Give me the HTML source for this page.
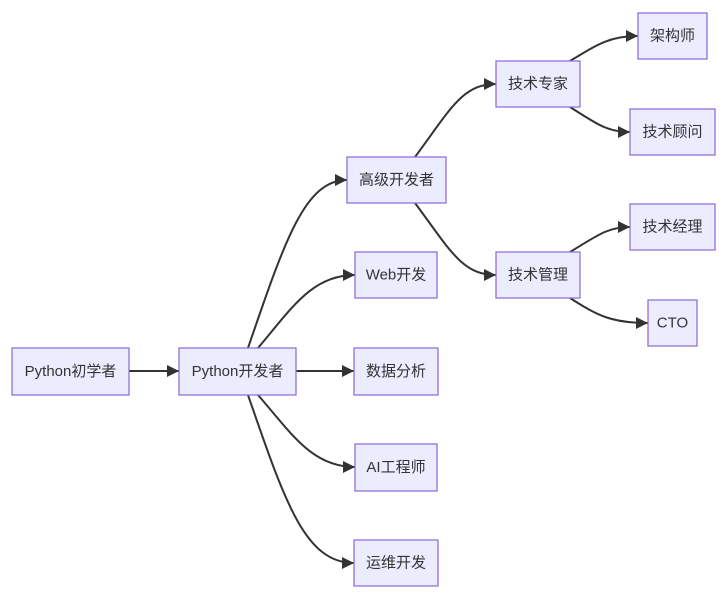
<!DOCTYPE html>
<html><head><meta charset="utf-8"><style>
html,body{margin:0;padding:0;background:#fff;}
svg{display:block;}
text{font-family:"Liberation Sans","Noto Sans CJK SC",sans-serif;font-size:15px;fill:#333;text-anchor:middle;dominant-baseline:central;}
rect{fill:#ECECFF;stroke:#9370DB;stroke-width:1.3;}
path.e{fill:none;stroke:#333;stroke-width:2;marker-end:url(#a);}
</style></head><body>
<svg width="725" height="595" viewBox="0 0 725 595" xmlns="http://www.w3.org/2000/svg">
<defs><marker id="a" viewBox="0 0 10 10" refX="10" refY="5" markerWidth="6" markerHeight="6" markerUnits="strokeWidth" orient="auto"><path d="M0,0L10,5L0,10z" fill="#333"/></marker></defs>
<path class="e" d="M129,371L179,371"/>
<path class="e" d="M248,348C285,240 305,180 347,180"/>
<path class="e" d="M258,348C292,308 312,275 355,275"/>
<path class="e" d="M296,371L354,371"/>
<path class="e" d="M258,395C292,434 312,467 355,467"/>
<path class="e" d="M248,395C285,502 305,563 354,563"/>
<path class="e" d="M415,157C450,110 462,84 496,84"/>
<path class="e" d="M415,203C450,250 462,275 496,275"/>
<path class="e" d="M570,61C598,44 610,36 638,36"/>
<path class="e" d="M570,107C598,125 608,132 630,132"/>
<path class="e" d="M570,252C598,235 608,227 630,227"/>
<path class="e" d="M570,298C598,316 612,323 648,323"/>
<rect x="12" y="348" width="117" height="47"/><text x="70.5" y="371.5">Python初学者</text>
<rect x="179" y="348" width="117" height="47"/><text x="237.5" y="371.5">Python开发者</text>
<rect x="347" y="157" width="99" height="46"/><text x="396.5" y="180">高级开发者</text>
<rect x="355" y="252" width="82" height="46"/><text x="396" y="275">Web开发</text>
<rect x="354" y="348" width="84" height="47"/><text x="396" y="371.5">数据分析</text>
<rect x="355" y="444" width="82" height="47"/><text x="396" y="467.5">AI工程师</text>
<rect x="354" y="540" width="84" height="46"/><text x="396" y="563">运维开发</text>
<rect x="496" y="61" width="84" height="46"/><text x="538" y="84">技术专家</text>
<rect x="496" y="252" width="84" height="46"/><text x="538" y="275">技术管理</text>
<rect x="638" y="13" width="69" height="46"/><text x="672.5" y="36">架构师</text>
<rect x="630" y="109" width="85" height="46"/><text x="672.5" y="132">技术顾问</text>
<rect x="630" y="204" width="85" height="46"/><text x="672.5" y="227">技术经理</text>
<rect x="648" y="300" width="49" height="46"/><text x="672.5" y="323">CTO</text>
</svg>
</body></html>
